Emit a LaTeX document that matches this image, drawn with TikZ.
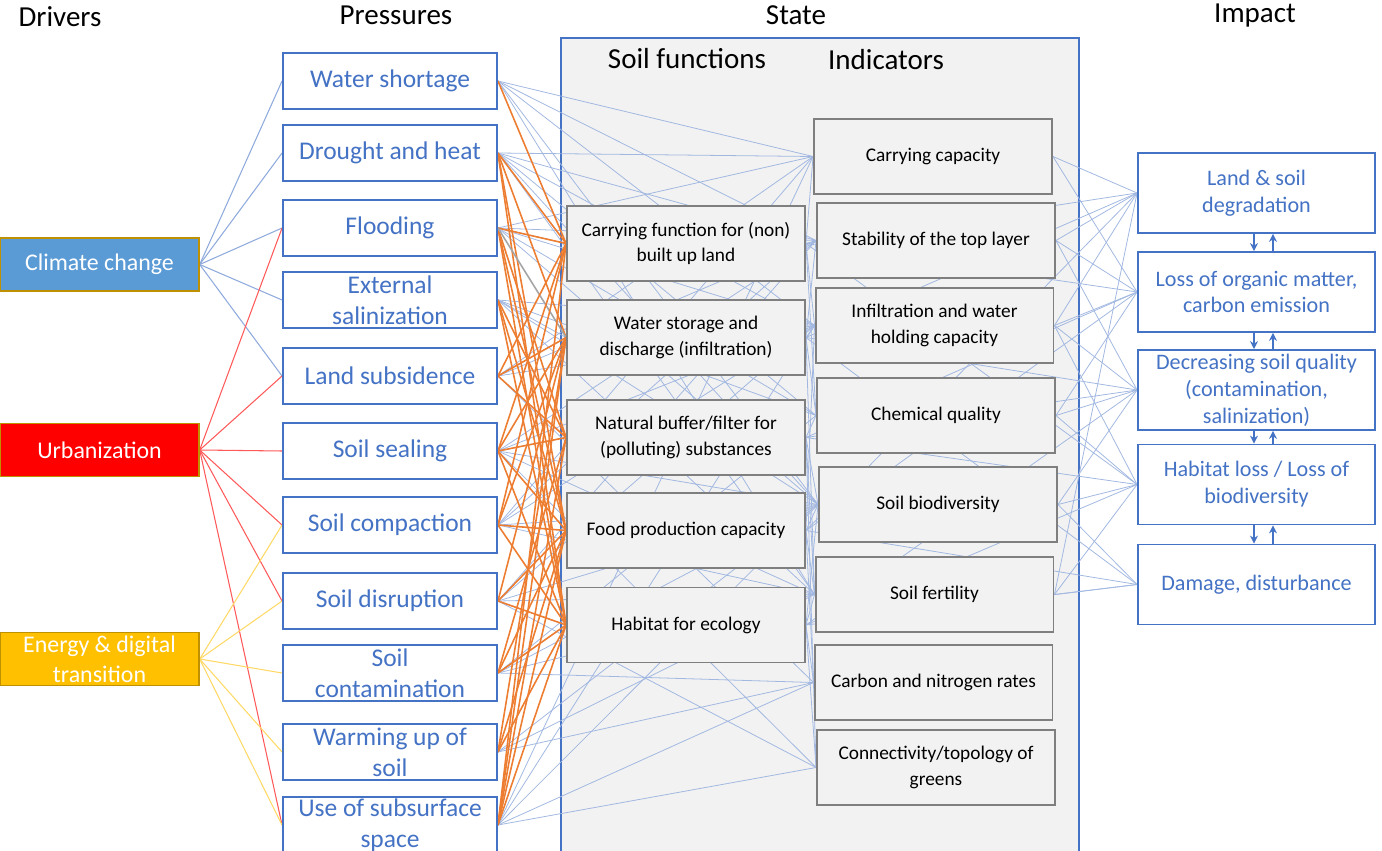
\documentclass[tikz,border=0pt]{standalone}
\usepackage{fontspec}
\setmainfont{Carlito}
\usetikzlibrary{positioning,arrows.meta}

\definecolor{pblue}{HTML}{4472C4}
\definecolor{cblue}{HTML}{5B9BD5}
\definecolor{lblue}{HTML}{8FAADC}
\definecolor{eyellow}{HTML}{FFC000}
\definecolor{lyellow}{HTML}{FFD966}
\definecolor{dgold}{HTML}{BF9000}
\definecolor{porange}{HTML}{ED7D31}
\definecolor{sgray}{HTML}{F2F2F2}
\definecolor{bgray}{HTML}{7F7F7F}
\definecolor{lgray}{HTML}{A5A5A5}

\pgfdeclarelayer{statebg}
\pgfdeclarelayer{links}
\pgfsetlayers{statebg,links,main}

\begin{document}
\begin{tikzpicture}[x=0.02cm, y=-0.02cm, >=Stealth,
    head/.style={anchor=base, font=\fontsize{16.5}{19}\selectfont},
    drv/.style={draw=dgold, line width=0.8pt, text=white, align=center, inner sep=0pt,
        minimum width=3.98cm, minimum height=1.06cm, font=\fontsize{13.6}{17}\selectfont},
    press/.style={draw=pblue, line width=1.1pt, fill=white, text=pblue, align=center, inner sep=0pt,
        minimum width=4.28cm, minimum height=1.12cm, font=\fontsize{14.5}{17.6}\selectfont},
    func/.style={draw=bgray, line width=1.1pt, fill=sgray, align=center, inner sep=1pt,
        minimum width=4.76cm, minimum height=1.5cm, font=\fontsize{11}{14.7}\selectfont},
    impact/.style={draw=pblue, line width=1.1pt, fill=white, text=pblue, align=center, inner sep=1pt,
        minimum width=4.74cm, minimum height=1.6cm, font=\fontsize{12.6}{15.3}\selectfont},
    cclink/.style={draw=lblue, line width=0.6pt},
    urblink/.style={draw=red!65, line width=0.6pt},
    enlink/.style={draw=lyellow, line width=0.6pt},
    orlink/.style={draw=porange, line width=0.9pt},
    grlink/.style={draw=lgray, line width=0.9pt},
    bllink/.style={draw=pblue!50, line width=0.45pt},
    implink/.style={draw=pblue, line width=0.7pt, -{Stealth[length=4.5pt,width=4.5pt]}}]
    \useasboundingbox (0,0) rectangle (1382,851);

    % State background
    \begin{pgfonlayer}{statebg}
        \draw[draw=pblue, fill=sgray, line width=0.8pt] (561,38) rectangle (1079,880);
    \end{pgfonlayer}

    % Titles
    \node[head] (title_drv) at (60,27) {Drivers};
    \node[head] (title_prs) at (396,25) {Pressures};
    \node[head] (title_sta) at (796,25) {State};
    \node[head] (title_imp) at (1255,23) {Impact};
    \node[head] (title_fun) at (687,69) {Soil functions};
    \node[head] (title_ind) at (886,70) {Indicators};

    % Drivers
    \node[drv, fill=cblue] (D1) at (99.5,264.5) {Climate change};
    \node[drv, fill=red] (D2) at (99.5,450) {Urbanization};
    \node[drv, fill=eyellow] (D3) at (99.5,659) {Energy \& digital\\transition};

    % Pressures
    \node[press] (P1) at (390,81) {Water shortage};
    \node[press] (P2) at (390,153) {Drought and heat};
    \node[press] (P3) at (390,228) {Flooding};
    \node[press] (P4) at (390,300) {External\\salinization};
    \node[press] (P5) at (390,376) {Land subsidence};
    \node[press] (P6) at (390,451) {Soil sealing};
    \node[press] (P7) at (390,525) {Soil compaction};
    \node[press] (P8) at (390,601) {Soil disruption};
    \node[press] (P9) at (390,673) {Soil\\contamination};
    \node[press] (P10) at (390,752) {Warming up of\\soil};
    \node[press] (P11) at (390,825) {Use of subsurface\\space};

    % Soil functions
    \node[func] (F1) at (686,243.5) {Carrying function for (non)\\built up land};
    \node[func] (F2) at (686,337.5) {Water storage and\\discharge (infiltration)};
    \node[func] (F3) at (686,437.5) {Natural buffer/filter for\\(polluting) substances};
    \node[func] (F4) at (686,530.5) {Food production capacity};
    \node[func] (F5) at (686,625) {Habitat for ecology};

    % Indicators
    \node[func] (I1) at (933,156.5) {Carrying capacity};
    \node[func] (I2) at (936,240.5) {Stability of the top layer};
    \node[func] (I3) at (934.5,325.5) {Infiltration and water\\holding capacity};
    \node[func] (I4) at (936,415.5) {Chemical quality};
    \node[func] (I5) at (938,504.5) {Soil biodiversity};
    \node[func] (I6) at (934.5,594.5) {Soil fertility};
    \node[func] (I7) at (933.5,682.5) {Carbon and nitrogen rates};
    \node[func] (I8) at (936,767.5) {Connectivity/topology of\\greens};

    % Impacts
    \node[impact] (Imp1) at (1256.5,193) {Land \& soil\\degradation};
    \node[impact] (Imp2) at (1256.5,292) {Loss of organic matter,\\carbon emission};
    \node[impact] (Imp3) at (1256.5,390) {Decreasing soil quality\\(contamination,\\salinization)};
    \node[impact] (Imp4) at (1256.5,484.5) {Habitat loss / Loss of\\biodiversity};
    \node[impact] (Imp5) at (1256.5,584.5) {Damage, disturbance};

    \draw[implink] ([xshift=-0.05cm]Imp1.south) -- ([xshift=-0.05cm]Imp2.north);
    \draw[implink] ([xshift=0.33cm]Imp2.north) -- ([xshift=0.33cm]Imp1.south);
    \draw[implink] ([xshift=-0.05cm]Imp2.south) -- ([xshift=-0.05cm]Imp3.north);
    \draw[implink] ([xshift=0.33cm]Imp3.north) -- ([xshift=0.33cm]Imp2.south);
    \draw[implink] ([xshift=-0.05cm]Imp3.south) -- ([xshift=-0.05cm]Imp4.north);
    \draw[implink] ([xshift=0.33cm]Imp4.north) -- ([xshift=0.33cm]Imp3.south);
    \draw[implink] ([xshift=-0.05cm]Imp4.south) -- ([xshift=-0.05cm]Imp5.north);
    \draw[implink] ([xshift=0.33cm]Imp5.north) -- ([xshift=0.33cm]Imp4.south);

    \begin{pgfonlayer}{links}
        % drivers to pressures
        \draw[cclink] (D1.east) edge (P1.west) edge (P2.west) edge (P3.west) edge (P4.west) edge (P5.west);
        \draw[urblink] (D2.east) edge (P3.west) edge (P5.west) edge (P6.west) edge (P7.west) edge (P8.west) edge (P11.west);
        \draw[enlink] (D3.east) edge (P7.west) edge (P8.west) edge (P9.west) edge (P10.west) edge (P11.west);

        % pressures to indicators
        \draw[bllink] (P1.east) edge (I1.west) edge (I2.west) edge (I3.west) edge (I5.west) edge (I6.west);
        \draw[bllink] (P2.east) edge (I1.west) edge (I2.west) edge (I3.west) edge (I4.west) edge (I5.west) edge (I6.west);
        \draw[bllink] (P3.east) edge (I1.west) edge (I2.west) edge (I3.west) edge (I4.west) edge (I5.west) edge (F1.west);
        \draw[bllink] (P4.east) edge (I3.west) edge (I4.west) edge (I5.west) edge (I6.west) edge (F2.west);
        \draw[bllink] (P5.east) edge (I1.west) edge (I2.west) edge (I3.west) edge (I7.west) edge (F2.west);
        \draw[bllink] (P6.east) edge (I2.west) edge (I3.west) edge (I5.west) edge (I6.west) edge (I8.west) edge (F3.west);
        \draw[bllink] (P7.east) edge (I1.west) edge (I2.west) edge (I3.west) edge (I5.west) edge (I6.west) edge (F4.west);
        \draw[bllink] (P8.east) edge (I2.west) edge (I3.west) edge (I5.west) edge (I6.west) edge (I8.west) edge (F5.west);
        \draw[bllink] (P9.east) edge (I4.west) edge (I5.west) edge (I6.west) edge (I7.west) edge (F5.west);
        \draw[bllink] (P10.east) edge (I5.west) edge (I6.west) edge (I7.west);
        \draw[bllink] (P11.east) edge (I1.west) edge (I3.west) edge (I5.west) edge (I7.west) edge (I8.west);

        % pressures to soil functions
        \draw[orlink] (P1.east) -- (F1.west);
        \draw[orlink] (P2.east) edge (F1.west) edge (F2.west) edge (F4.west) edge (F5.west);
        \draw[orlink] (P3.east) edge (F1.west) edge (F3.west) edge (F4.west) edge (F5.west);
        \draw[grlink] (P3.east) -- (F2.west);
        \draw[orlink] (P4.east) edge (F3.west) edge (F4.west) edge (F5.west);
        \draw[orlink] (P5.east) edge (F1.west) edge (F2.west) edge (F3.west);
        \draw[orlink] (P6.east) edge (F1.west) edge (F2.west) edge (F3.west) edge (F4.west) edge (F5.west);
        \draw[orlink] (P7.east) edge (F1.west) edge (F2.west) edge (F4.west) edge (F5.west);
        \draw[orlink] (P8.east) edge (F2.west) edge (F4.west) edge (F5.west);
        \draw[orlink] (P9.east) edge (F3.west) edge (F4.west) edge (F5.west);
        \draw[orlink] (P10.east) edge (F2.west) edge (F4.west) edge (F5.west);
        \draw[orlink] (P11.east) edge (F1.west) edge (F2.west) edge (F3.west) edge (F4.west) edge (F5.west);

        % soil functions to indicators
        \draw[bllink] (F1.east) edge (I1.west) edge (I2.west) edge (I3.west) edge (I4.west);
        \draw[bllink] (F2.east) edge (I2.west) edge (I3.west) edge (I4.west) edge (I6.west);
        \draw[bllink] (F3.east) edge (I4.west) edge (I5.west) edge (I6.west) edge (I8.west);
        \draw[bllink] (F4.east) edge (I3.west) edge (I5.west) edge (I6.west) edge (I7.west);
        \draw[bllink] (F5.east) edge (I5.west) edge (I6.west) edge (I7.west) edge (I8.west);

        % soil functions to impacts
        \draw[bllink] (F1.east) edge (Imp1.west) edge (Imp2.west) edge (Imp4.west);
        \draw[bllink] (F2.east) edge (Imp1.west) edge (Imp3.west) edge (Imp5.west);
        \draw[bllink] (F3.east) edge (Imp2.west) edge (Imp3.west) edge (Imp4.west);
        \draw[bllink] (F4.east) edge (Imp1.west) edge (Imp2.west) edge (Imp5.west);
        \draw[bllink] (F5.east) edge (Imp3.west) edge (Imp4.west) edge (Imp5.west);

        % indicators to impacts
        \draw[bllink] (I1.east) edge (Imp1.west) edge (Imp2.west);
        \draw[bllink] (I2.east) edge (Imp1.west) edge (Imp2.west) edge (Imp3.west);
        \draw[bllink] (I3.east) edge (Imp1.west) edge (Imp2.west) edge (Imp3.west) edge (Imp4.west);
        \draw[bllink] (I4.east) edge (Imp2.west) edge (Imp3.west) edge (Imp4.west);
        \draw[bllink] (I5.east) edge (Imp3.west) edge (Imp4.west) edge (Imp5.west);
        \draw[bllink] (I6.east) edge (Imp1.west) edge (Imp4.west) edge (Imp5.west);
    \end{pgfonlayer}
\end{tikzpicture}
\end{document}
